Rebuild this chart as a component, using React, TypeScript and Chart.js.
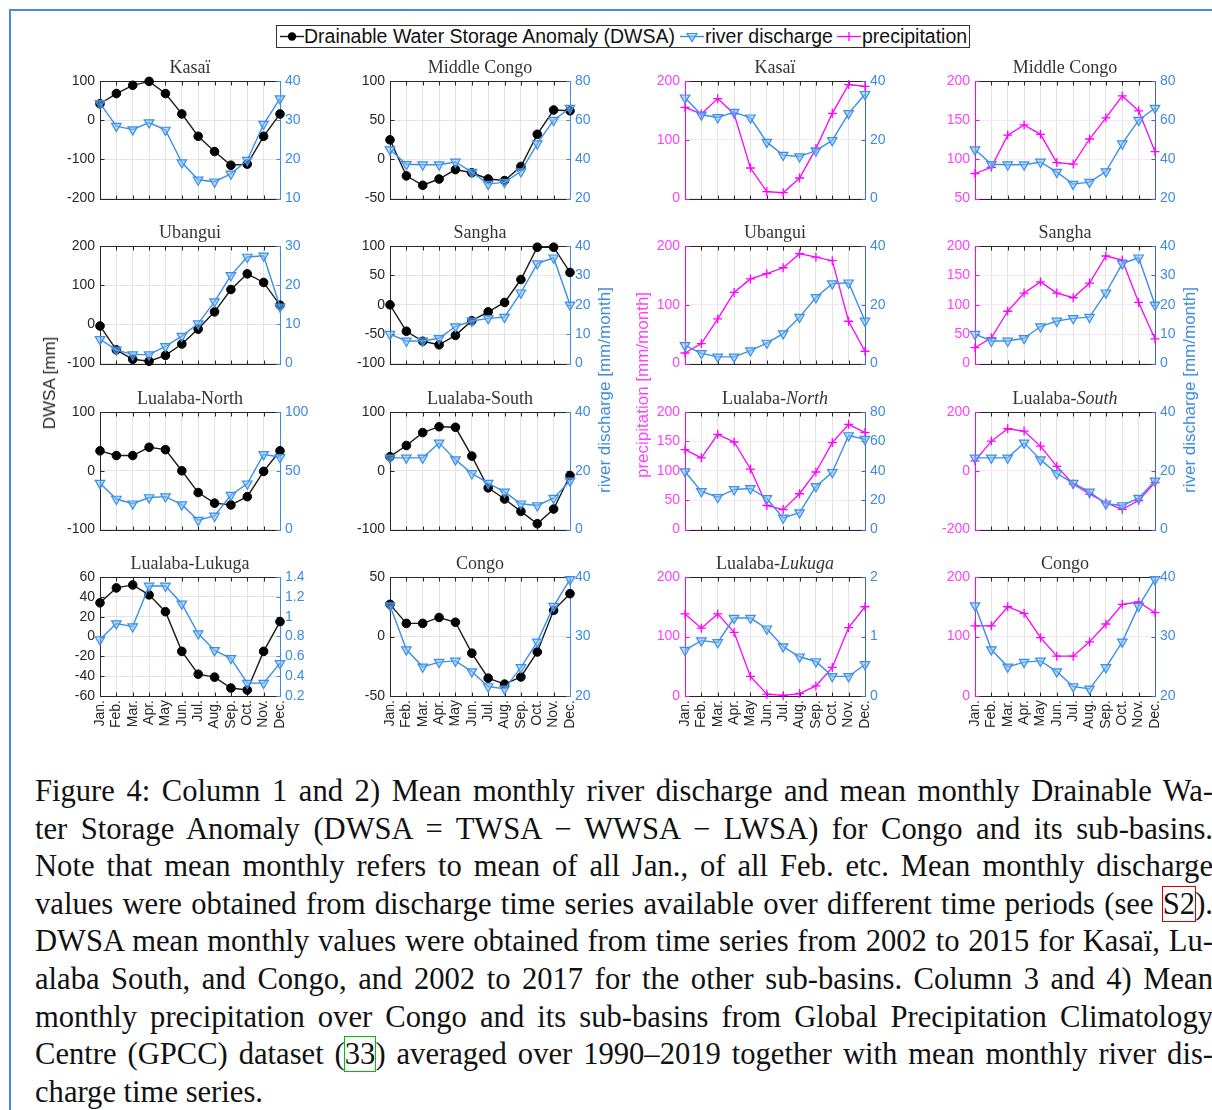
import React, { useEffect, useRef } from 'react';
import { Chart, registerables } from 'chart.js';

Chart.register(...registerables);

// ---------------- data ----------------
const MONTHS = ['Jan.', 'Feb.', 'Mar.', 'Apr.', 'May', 'Jun.', 'Jul.', 'Aug.', 'Sep.', 'Oct.', 'Nov.', 'Dec.'];

const kasaiDWSA = [42, 68, 89, 99, 68, 16, -41, -80, -115, -112, -41, 16];
const kasaiQ = [34.3, 28.5, 27.6, 29.4, 27.5, 19.2, 14.8, 14.3, 16.3, 19.8, 29, 35.5];
const kasaiP = [155, 144, 170, 144, 52, 12, 10, 35, 85, 145, 194, 191];

const midCongoDWSA = [25, -21, -33, -25, -13, -17, -25, -27, -9, 32, 63, 62];
const midCongoQ = [45, 37.5, 37.3, 37.3, 38.7, 33.5, 27.4, 28.4, 33.8, 48, 60, 66.2];
const midCongoP = [82, 90, 131, 144, 132, 96, 94, 126, 153, 181, 162, 110];

const ubanguiDWSA = [-4, -65, -89, -94, -79, -50, -12, 32, 89, 129, 107, 49];
const ubanguiQ = [6.2, 3.5, 2.3, 2.3, 4.4, 7, 10.2, 15.8, 22.5, 27.2, 27.5, 14.5];
const ubanguiP = [18, 34, 76, 121, 144, 153, 163, 187, 181, 175, 72, 21];

const sanghaDWSA = [0, -45, -62, -68, -52, -27, -12, 4, 43, 98, 98, 55];
const sanghaQ = [10, 7.7, 7.7, 8.6, 12.6, 14.5, 15.4, 15.8, 24.1, 34, 36, 20];
const sanghaP = [27, 44, 89, 120, 139, 120, 112, 137, 183, 176, 104, 42];

const luaNorthDWSA = [34, 26, 26, 40, 36, 0, -37, -55, -58, -44, -1, 34];
const luaNorthQ = [39.5, 26, 22, 27.3, 28, 21.2, 8, 11.6, 29.4, 39, 64, 61.5];
const luaNorthP = [136, 122, 162, 149, 103, 41, 34, 61, 98, 148, 179, 165];

const luaSouthDWSA = [24, 43, 65, 75, 74, 25, -29, -48, -69, -90, -65, -8];
const luaSouthQ = [24.4, 24.4, 24.4, 29.5, 23.8, 19.1, 15.8, 12.8, 8.8, 8.2, 10.7, 16.6];
const luaSouthP = [34, 101, 143, 135, 84, 15, -45, -79, -109, -131, -101, -40];

const lukugaDWSA = [34, 49, 52, 42, 25, -15, -38, -41, -52, -54, -15, 15];
const lukugaQ = [0.77, 0.93, 0.9, 1.31, 1.31, 1.13, 0.83, 0.66, 0.58, 0.33, 0.33, 0.53];
const lukugaP = [138, 114, 138, 107, 33, 3, 1, 4, 17, 48, 115, 150];

const congoDWSA = [27, 11, 11, 16, 12, -14, -35, -40, -34, -13, 22, 36];
const congoQ = [35.2, 27.8, 24.9, 25.7, 25.9, 24.1, 21.6, 21.2, 24.8, 29.1, 35.1, 39.6];
const congoP = [118, 118, 150, 139, 98, 67, 67, 91, 121, 154, 158, 140];

// axis ranges [min, max, step] (tick labels)
const kasaiDAxis = [-200, 100, 100], kasaiQAxis1 = [10, 40, 10];
const midCongoDAxis = [-50, 100, 50], midCongoQAxis = [20, 80, 20];
const kasaiPAxis = [0, 200, 100], kasaiQAxis2 = [0, 40, 20];
const midCongoPAxis = [50, 200, 50];
const ubanguiDAxis = [-100, 200, 100], ubanguiQAxis1 = [0, 30, 10];
const sanghaDAxis = [-100, 100, 50], sanghaQAxis = [0, 40, 10];
const ubanguiPAxis = [0, 200, 100], ubanguiQAxis2 = [0, 40, 20];
const sanghaPAxis = [0, 200, 50];
const luaNorthDAxis = [-100, 100, 100], luaNorthQAxis1 = [0, 100, 50];
const luaSouthDAxis = [-100, 100, 100], luaSouthQAxis = [0, 40, 20];
const luaNorthPAxis = [0, 200, 50], luaNorthQAxis2 = [0, 80, 20];
const luaSouthPAxis = [-200, 200, 200];
const lukugaDAxis = [-60, 60, 20], lukugaQAxis1 = [0.2, 1.4, 0.2];
const congoDAxis = [-50, 50, 50], congoQAxis = [20, 40, 10];
const lukugaPAxis = [0, 200, 100], lukugaQAxis2 = [0, 2, 1];
const congoPAxis = [0, 200, 100];

type PanelCfg = {
  title: string; italic: string; kind: 'D' | 'P';
  main: number[]; q: number[]; leftAxis: number[]; rightAxis: number[];
};

const PANELS: PanelCfg[][] = [
  [
    { title: 'Kasaï', italic: '', kind: 'D', main: kasaiDWSA, q: kasaiQ, leftAxis: kasaiDAxis, rightAxis: kasaiQAxis1 },
    { title: 'Middle Congo', italic: '', kind: 'D', main: midCongoDWSA, q: midCongoQ, leftAxis: midCongoDAxis, rightAxis: midCongoQAxis },
    { title: 'Kasaï', italic: '', kind: 'P', main: kasaiP, q: kasaiQ, leftAxis: kasaiPAxis, rightAxis: kasaiQAxis2 },
    { title: 'Middle Congo', italic: '', kind: 'P', main: midCongoP, q: midCongoQ, leftAxis: midCongoPAxis, rightAxis: midCongoQAxis },
  ],
  [
    { title: 'Ubangui', italic: '', kind: 'D', main: ubanguiDWSA, q: ubanguiQ, leftAxis: ubanguiDAxis, rightAxis: ubanguiQAxis1 },
    { title: 'Sangha', italic: '', kind: 'D', main: sanghaDWSA, q: sanghaQ, leftAxis: sanghaDAxis, rightAxis: sanghaQAxis },
    { title: 'Ubangui', italic: '', kind: 'P', main: ubanguiP, q: ubanguiQ, leftAxis: ubanguiPAxis, rightAxis: ubanguiQAxis2 },
    { title: 'Sangha', italic: '', kind: 'P', main: sanghaP, q: sanghaQ, leftAxis: sanghaPAxis, rightAxis: sanghaQAxis },
  ],
  [
    { title: 'Lualaba-North', italic: '', kind: 'D', main: luaNorthDWSA, q: luaNorthQ, leftAxis: luaNorthDAxis, rightAxis: luaNorthQAxis1 },
    { title: 'Lualaba-South', italic: '', kind: 'D', main: luaSouthDWSA, q: luaSouthQ, leftAxis: luaSouthDAxis, rightAxis: luaSouthQAxis },
    { title: 'Lualaba-', italic: 'North', kind: 'P', main: luaNorthP, q: luaNorthQ, leftAxis: luaNorthPAxis, rightAxis: luaNorthQAxis2 },
    { title: 'Lualaba-', italic: 'South', kind: 'P', main: luaSouthP, q: luaSouthQ, leftAxis: luaSouthPAxis, rightAxis: luaSouthQAxis },
  ],
  [
    { title: 'Lualaba-Lukuga', italic: '', kind: 'D', main: lukugaDWSA, q: lukugaQ, leftAxis: lukugaDAxis, rightAxis: lukugaQAxis1 },
    { title: 'Congo', italic: '', kind: 'D', main: congoDWSA, q: congoQ, leftAxis: congoDAxis, rightAxis: congoQAxis },
    { title: 'Lualaba-', italic: 'Lukuga', kind: 'P', main: lukugaP, q: lukugaQ, leftAxis: lukugaPAxis, rightAxis: lukugaQAxis2 },
    { title: 'Congo', italic: '', kind: 'P', main: congoP, q: congoQ, leftAxis: congoPAxis, rightAxis: congoQAxis },
  ],
];

const CAPTION: [string, string][][] = [
  [['Figure 4: Column 1 and 2) Mean monthly river discharge and mean monthly Drainable Wa-', '']],
  [['ter Storage Anomaly (DWSA = TWSA − WWSA − LWSA) for Congo and its sub-basins.', '']],
  [['Note that mean monthly refers to mean of all Jan., of all Feb. etc. Mean monthly discharge', '']],
  [['values were obtained from discharge time series available over different time periods (see ', ''], ['S2', 'red'], [').', '']],
  [['DWSA mean monthly values were obtained from time series from 2002 to 2015 for Kasaï, Lu-', '']],
  [['alaba South, and Congo, and 2002 to 2017 for the other sub-basins. Column 3 and 4) Mean', '']],
  [['monthly precipitation over Congo and its sub-basins from Global Precipitation Climatology', '']],
  [['Centre (GPCC) dataset (', ''], ['33', 'green'], [') averaged over 1990–2019 together with mean monthly river dis-', '']],
  [['charge time series.', '']],
];

// ---------------- layout & style ----------------
const COL_X = [100, 390, 685, 975];
const ROW_Y = [81, 246, 412, 577];
const PLOT_W = 180;
const PLOT_H = 119;
const AXIS_W = 55;
const TOP_PAD = 28;
const BOTTOM_PAD = 12;
const X_LABEL_H = 45;

const SANS = '"Liberation Sans", Arial, sans-serif';
const SERIF = '"Liberation Serif", "Times New Roman", serif';
const DARK = '#262626';
const BLUE = '#3a8fe8';
const BLUE_FILL = 'rgba(130,190,245,0.55)';
const BLUE_LABEL = '#3d8be0';
const BLUE_AXIS_P = '#3f62ea';
const MAGENTA = '#ff00ff';
const MAGENTA_LABEL = '#ff40ff';
const GRID = '#e4e4e4';
const PINK_GRID = '#fbe1fb';

function PanelChart({ p, row, col }: { p: PanelCfg; row: number; col: number }) {
  const ref = useRef<HTMLCanvasElement | null>(null);
  const bottomRow = row === 3;
  const W = PLOT_W + 2 * AXIS_W;
  const H = TOP_PAD + PLOT_H + (bottomRow ? X_LABEL_H : BOTTOM_PAD);

  useEffect(() => {
    const isP = p.kind === 'P';
    const leftLabelColor = isP ? MAGENTA_LABEL : DARK;
    const leftAxisColor = isP ? MAGENTA : DARK;
    const rightAxisColor = isP ? BLUE_AXIS_P : BLUE_LABEL;
    const fmt = (v: any) => String(Math.round(Number(v) * 10) / 10);

    const frame = {
      id: 'frame',
      beforeDatasetsDraw(chart: any) {
        const { ctx, chartArea: a, scales } = chart;
        const px = (v: number) => Math.round(v) + 0.5;
        const L = px(a.left), R = px(a.right), T = px(a.top), B = px(a.bottom);
        const seg = (x1: number, y1: number, x2: number, y2: number) => {
          ctx.beginPath(); ctx.moveTo(x1, y1); ctx.lineTo(x2, y2); ctx.stroke();
        };
        ctx.save();
        ctx.lineWidth = 1;
        ctx.strokeStyle = DARK;
        seg(L, T, R, T);
        seg(L, B, R, B);
        for (let i = 0; i < MONTHS.length; i++) {
          const x = px(scales.x.getPixelForValue(i));
          seg(x, B, x, B - 4);
          seg(x, T, x, T + 4);
        }
        ctx.strokeStyle = leftAxisColor;
        seg(L, T - 0.5, L, B + 0.5);
        scales.y.ticks.forEach((t: any) => {
          const y = px(scales.y.getPixelForValue(t.value));
          seg(L, y, L + 4, y);
        });
        ctx.strokeStyle = rightAxisColor;
        seg(R, T - 0.5, R, B + 0.5);
        scales.y1.ticks.forEach((t: any) => {
          const y = px(scales.y1.getPixelForValue(t.value));
          seg(R, y, R - 4, y);
        });
        ctx.restore();
      },
      afterDraw(chart: any) {
        const { ctx, chartArea: a } = chart;
        ctx.save();
        ctx.fillStyle = '#333';
        ctx.textBaseline = 'alphabetic';
        ctx.textAlign = 'left';
        const fN = `18px ${SERIF}`;
        const fI = `italic 18px ${SERIF}`;
        ctx.font = fN;
        const w1 = ctx.measureText(p.title).width;
        ctx.font = fI;
        const w2 = p.italic ? ctx.measureText(p.italic).width : 0;
        const x0 = (a.left + a.right) / 2 - (w1 + w2) / 2;
        const yb = a.top - 8;
        ctx.font = fN;
        ctx.fillText(p.title, x0, yb);
        if (p.italic) {
          ctx.font = fI;
          ctx.fillText(p.italic, x0 + w1, yb);
        }
        ctx.restore();
      },
    };

    const qDs: any = {
      label: 'river discharge', data: p.q, yAxisID: 'y1',
      borderColor: BLUE, borderWidth: 1.4, fill: false, tension: 0,
      pointStyle: 'triangle', pointRotation: 180, pointRadius: 5.5,
      pointBorderWidth: 1.2, pointBackgroundColor: BLUE_FILL, pointBorderColor: BLUE,
      clip: false,
    };
    const mainDs: any = isP
      ? {
          label: 'precipitation', data: p.main, yAxisID: 'y',
          borderColor: MAGENTA, borderWidth: 1.3, fill: false, tension: 0,
          pointStyle: 'cross', pointRadius: 4.5, pointBorderWidth: 1.3,
          pointBorderColor: MAGENTA, pointBackgroundColor: MAGENTA, clip: false,
        }
      : {
          label: 'DWSA', data: p.main, yAxisID: 'y',
          borderColor: '#1a1a1a', borderWidth: 1.4, fill: false, tension: 0,
          pointStyle: 'circle', pointRadius: 4.3, pointBorderWidth: 1,
          pointBorderColor: '#000', pointBackgroundColor: '#000', clip: false,
        };

    const chart = new Chart(ref.current as HTMLCanvasElement, {
      type: 'line',
      data: { labels: MONTHS, datasets: [qDs, mainDs] },
      options: {
        animation: false,
        responsive: false,
        devicePixelRatio: 1,
        events: [],
        layout: { padding: { top: TOP_PAD, bottom: bottomRow ? 0 : BOTTOM_PAD, left: 0, right: 0 } },
        plugins: { legend: { display: false }, tooltip: { enabled: false }, title: { display: false } },
        scales: {
          x: {
            type: 'category', offset: false,
            grid: { color: GRID, drawTicks: false, lineWidth: 1 },
            border: { display: false },
            ticks: {
              display: bottomRow, autoSkip: false, minRotation: 90, maxRotation: 90,
              font: { family: SANS, size: 14 }, color: DARK, padding: 4,
            },
            afterFit: (s: any) => { s.height = bottomRow ? X_LABEL_H : 0; },
          },
          y: {
            type: 'linear', position: 'left',
            min: p.leftAxis[0], max: p.leftAxis[1],
            ticks: { stepSize: p.leftAxis[2], color: leftLabelColor, font: { family: SANS, size: 14 }, padding: 5, callback: fmt },
            grid: { color: isP ? PINK_GRID : GRID, drawTicks: false, lineWidth: 1 },
            border: { display: false },
            afterFit: (s: any) => { s.width = AXIS_W; },
          },
          y1: {
            type: 'linear', position: 'right',
            min: p.rightAxis[0], max: p.rightAxis[1],
            ticks: { stepSize: p.rightAxis[2], color: BLUE_LABEL, font: { family: SANS, size: 14 }, padding: 5, callback: fmt },
            grid: { display: false, drawTicks: false },
            border: { display: false },
            afterFit: (s: any) => { s.width = AXIS_W; },
          },
        },
      } as any,
      plugins: [frame],
    });
    return () => chart.destroy();
  }, []);

  return (
    <canvas
      ref={ref}
      width={W}
      height={H}
      style={{ position: 'absolute', left: COL_X[col] - AXIS_W, top: ROW_Y[row] - TOP_PAD, width: W, height: H }}
    />
  );
}

function RotLabel({ text, cx, cy, color }: { text: string; cx: number; cy: number; color: string }) {
  return (
    <div
      style={{
        position: 'absolute', left: cx, top: cy, transform: 'translate(-50%, -50%) rotate(-90deg)',
        whiteSpace: 'nowrap', fontFamily: SANS, fontSize: 17, color, lineHeight: '20px',
      }}
    >
      {text}
    </div>
  );
}

function LegendSample({ kind, left }: { kind: string; left: number }) {
  return (
    <svg width={24} height={21} style={{ position: 'absolute', left, top: 0 }}>
      {kind === 'D' && (
        <g>
          <line x1={0} y1={10.5} x2={24} y2={10.5} stroke="#1a1a1a" strokeWidth={1.4} />
          <circle cx={12} cy={10.5} r={4.2} fill="#000" />
        </g>
      )}
      {kind === 'Q' && (
        <g>
          <line x1={0} y1={10.5} x2={24} y2={10.5} stroke={BLUE} strokeWidth={1.4} />
          <polygon points="7,7.5 17,7.5 12,15.5" fill={BLUE_FILL} stroke={BLUE} strokeWidth={1.2} />
        </g>
      )}
      {kind === 'P' && (
        <g>
          <line x1={0} y1={10.5} x2={24} y2={10.5} stroke={MAGENTA} strokeWidth={1.3} />
          <line x1={12} y1={6} x2={12} y2={15} stroke={MAGENTA} strokeWidth={1.3} />
        </g>
      )}
    </svg>
  );
}

export default function App() {
  const legendText = { position: 'absolute' as const, top: 0, lineHeight: '21px', fontFamily: SANS, fontSize: 19.5, color: '#111', whiteSpace: 'nowrap' as const };
  return (
    <div style={{ position: 'absolute', left: 0, top: 0, width: 1212, height: 1110, background: '#fff', overflow: 'hidden' }}>
      {/* blue frame */}
      <div style={{ position: 'absolute', left: 9, top: 9, width: 1203, height: 2, background: '#4a86e8' }} />
      <div style={{ position: 'absolute', left: 9, top: 9, width: 2, height: 1101, background: '#4a86e8' }} />

      {/* legend */}
      <div style={{ position: 'absolute', left: 276, top: 25, width: 694, height: 23, boxSizing: 'border-box', border: '1px solid #333', background: '#fff' }}>
        <LegendSample kind="D" left={3} />
        <span style={{ ...legendText, left: 27 }}>Drainable Water Storage Anomaly (DWSA)</span>
        <LegendSample kind="Q" left={403} />
        <span style={{ ...legendText, left: 428 }}>river discharge</span>
        <LegendSample kind="P" left={560} />
        <span style={{ ...legendText, left: 585 }}>precipitation</span>
      </div>

      {PANELS.map((rowPanels, r) =>
        rowPanels.map((p, c) => <PanelChart key={`${r}-${c}`} p={p} row={r} col={c} />)
      )}

      <RotLabel text="DWSA [mm]" cx={50} cy={383} color={DARK} />
      <RotLabel text="river discharge [mm/month]" cx={605} cy={390} color={BLUE_LABEL} />
      <RotLabel text="precipitation [mm/month]" cx={643} cy={385} color={MAGENTA_LABEL} />
      <RotLabel text="river discharge [mm/month]" cx={1190} cy={390} color={BLUE_LABEL} />

      {/* caption */}
      {CAPTION.map((segs, i) => (
        <div
          key={i}
          style={{
            position: 'absolute', left: 35, top: 773 + i * 37.6, width: 1178, height: 37.6,
            lineHeight: '37.6px', fontFamily: SERIF, fontSize: 30.6, color: '#111',
            textAlign: i < CAPTION.length - 1 ? 'justify' : 'left',
            textAlignLast: i < CAPTION.length - 1 ? 'justify' : 'left',
          } as any}
        >
          {segs.map(([t, box], k) =>
            box ? (
              <span key={k} style={{ outline: `1.5px solid ${box === 'red' ? '#d40000' : '#00c000'}` }}>{t}</span>
            ) : (
              <span key={k}>{t}</span>
            )
          )}
        </div>
      ))}
    </div>
  );
}
